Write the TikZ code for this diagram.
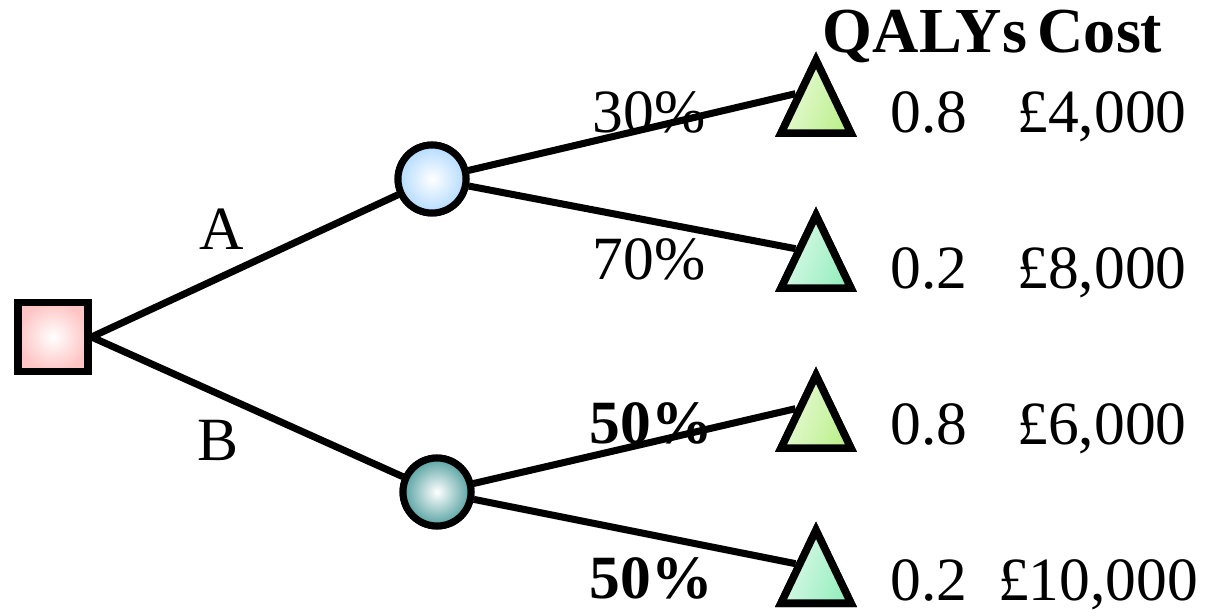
\documentclass[tikz,border=0pt]{standalone}
\usepackage{fontspec}
\setmainfont{Liberation Serif}
\usetikzlibrary{shapes.geometric}
\definecolor{decpink}{RGB}{255,196,196}
\definecolor{chanblue}{RGB}{178,218,255}
\definecolor{chanteal}{RGB}{84,160,160}
\definecolor{endlime}{RGB}{188,240,140}
\definecolor{endmint}{RGB}{150,238,190}
\tikzset{
  edge/.style={line width=4pt},
  decision/.style={draw, line width=4pt, rectangle, minimum width=1.4cm, minimum height=1.38cm,
    inner color=white, outer color=decpink},
  chance/.style={draw, line width=4pt, circle, minimum size=1.36cm, inner sep=0pt,
    inner color=white, outer color=#1},
  terminal/.style={draw, line width=4.3pt, isosceles triangle, isosceles triangle stretches,
    shape border rotate=90, minimum width=1.4cm, minimum height=1.46cm, inner sep=0pt,
    anchor=lower side, left color=white!70!#1, right color=#1, shading angle=70},
  lbl/.style={font=\fontsize{35}{38}\selectfont, anchor=base, inner sep=0pt},
  blbl/.style={lbl, font=\fontsize{35}{38}\selectfont\bfseries},
  hlbl/.style={lbl, font=\fontsize{36.5}{40}\selectfont\bfseries},
}
\begin{document}
\begin{tikzpicture}[x=0.02cm, y=-0.02cm]
\useasboundingbox (0,0) rectangle (1213,614);

% branch labels (drawn first so the branches run over them)
\node[lbl]  (lA)  at (222,250) {A};
\node[lbl]  (lB)  at (218,460) {B};
\node[lbl]  (p30) at (649,133) {30\%};
\node[lbl]  (p70) at (649,280) {70\%};
\node[blbl] (p50a) at (651,443) {50\%};
\node[blbl] (p50b) at (651,598) {50\%};

% header
\node[hlbl] (hq) at (925,53) {QALYs};
\node[hlbl] (hc) at (1100,53) {Cost};

% outcome values
\node[lbl] (q1) at (929,133) {0.8};
\node[lbl] (c1) at (1102,133) {£4,000};
\node[lbl] (q2) at (929,289) {0.2};
\node[lbl] (c2) at (1102,289) {£8,000};
\node[lbl] (q3) at (929,444) {0.8};
\node[lbl] (c3) at (1102,444) {£6,000};
\node[lbl] (q4) at (929,600) {0.2};
\node[lbl] (c4) at (1098,600) {£10,000};

% tree nodes
\node[decision] (dec) at (53,337) {};
\node[chance=chanblue] (cA) at (432,179) {};
\node[chance=chanteal] (cB) at (437,492) {};
\node[terminal=endlime] (t1) at (816,137) {};
\node[terminal=endmint] (t2) at (816,292) {};
\node[terminal=endlime] (t3) at (816,452) {};
\node[terminal=endmint] (t4) at (816,607) {};

% branches
\draw[edge] (dec.east) -- (cA);
\draw[edge] (dec.east) -- (cB);
\draw[edge] (cA) -- (t1.left side);
\draw[edge] (cA) -- (t2.left side);
\draw[edge] (cB) -- (t3.left side);
\draw[edge] (cB) -- (t4.left side);

% redraw nodes on top of the branch ends
\node[decision] at (dec) {};
\node[chance=chanblue] at (cA) {};
\node[chance=chanteal] at (cB) {};
\node[terminal=endlime] at (t1.lower side) {};
\node[terminal=endmint] at (t2.lower side) {};
\node[terminal=endlime] at (t3.lower side) {};
\node[terminal=endmint] at (t4.lower side) {};
\end{tikzpicture}
\end{document}
